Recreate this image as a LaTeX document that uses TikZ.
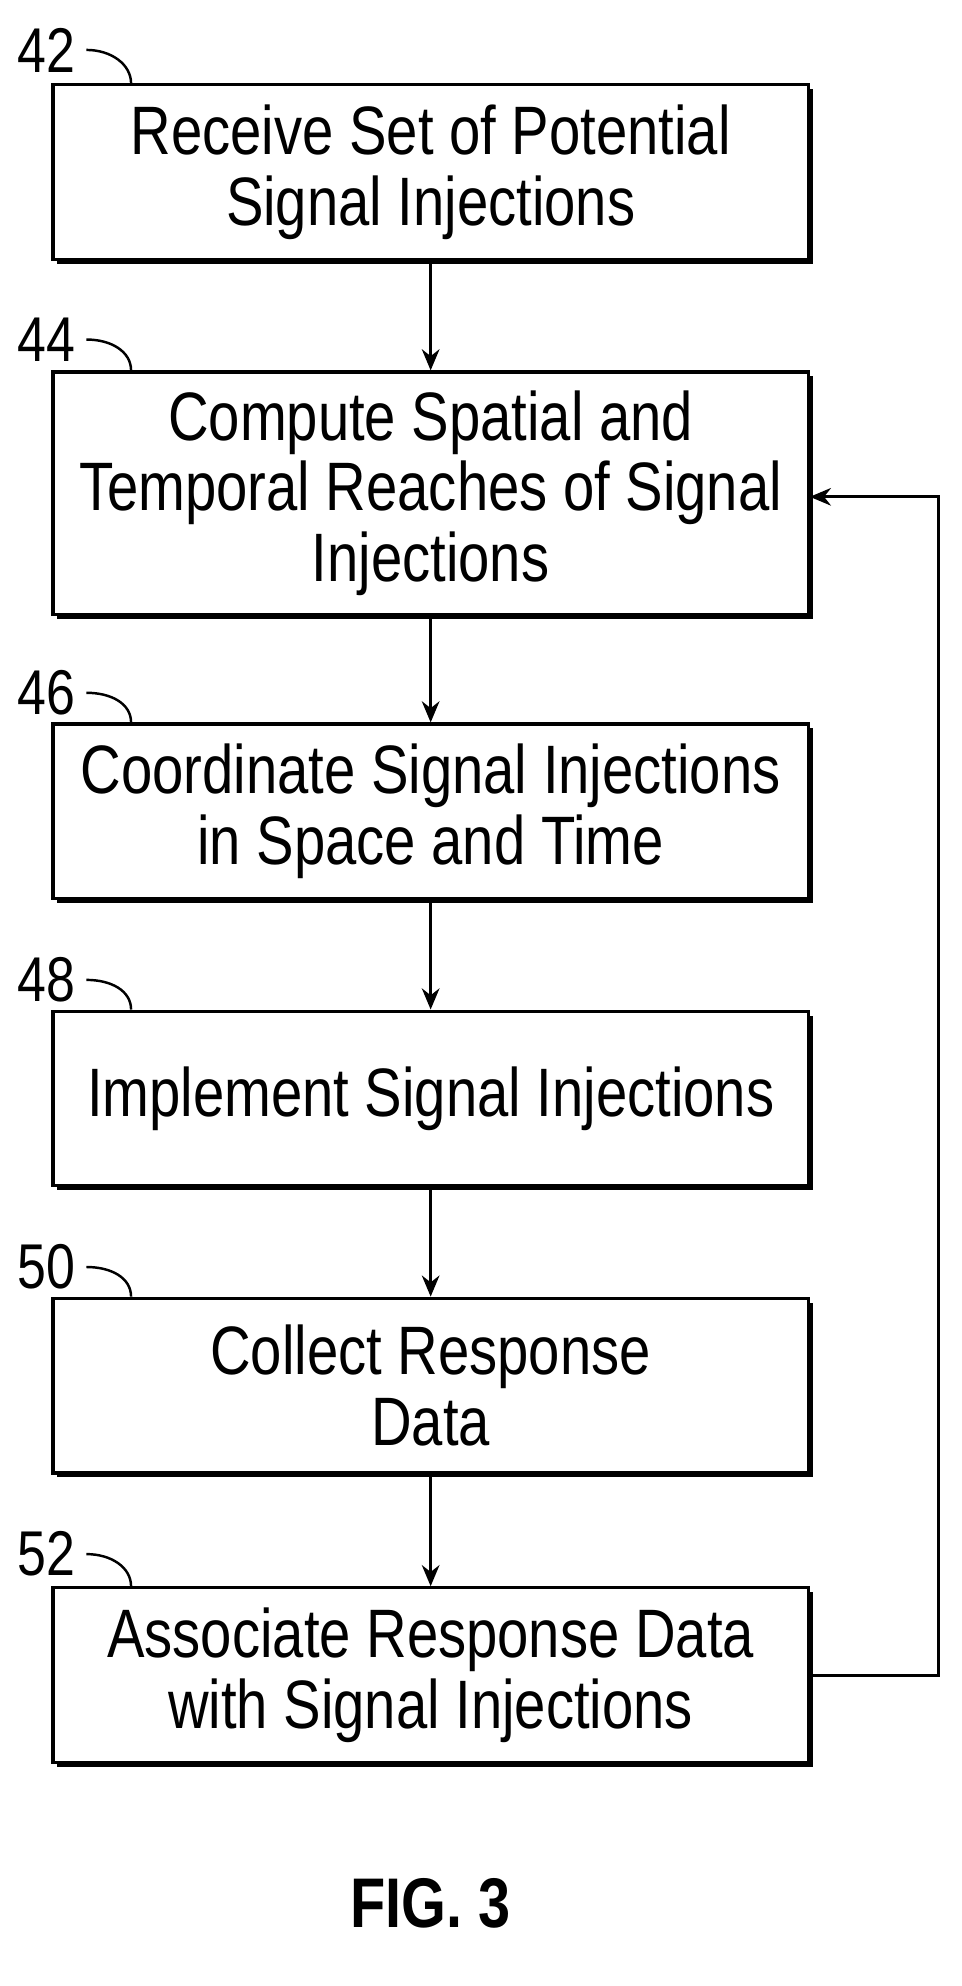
\documentclass[tikz,border=0pt]{standalone}
\usepackage{fontspec}
\setmainfont{Liberation Sans}[FakeStretch=0.82]
\usetikzlibrary{shadows,arrows.meta}
\newlength{\px}
\setlength{\px}{0.02496cm}
\tikzset{
  block/.style={draw,line width=1.8pt,fill=white,minimum width=605\px,align=center,
    font=\fontsize{39}{40}\selectfont,
    drop shadow={shadow xshift=2.5pt,shadow yshift=-2.5pt,opacity=1,fill=black}},
  num/.style={font=\fontsize{36}{36}\selectfont,anchor=west,inner sep=0pt},
  flow/.style={line width=1.8pt,-{Stealth[length=12pt,width=10pt]}}
}
\begin{document}
\begin{tikzpicture}[x=0.02496cm,y=-0.02496cm]
\useasboundingbox (0,0) rectangle (770,1591);
% boxes
\node[block,minimum height=140\px] (recv) at (345,138) {Receive Set of Potential\\Signal Injections};
\node[block,minimum height=194\px] (reach) at (345,395) {Compute Spatial and\\Temporal Reaches of Signal\\Injections};
\node[block,minimum height=140\px] (coord) at (345,650) {Coordinate Signal Injections\\in Space and Time};
\node[block,minimum height=140\px] (impl) at (345,880) {Implement Signal Injections};
\node[block,minimum height=140\px] (coll) at (345,1110) {Collect Response\\Data};
\node[block,minimum height=140\px] (assoc) at (345,1342) {Associate Response Data\\with Signal Injections};
% reference numerals
\foreach \n/\y/\b in {42/40/recv,44/272/reach,46/555/coord,48/785/impl,50/1015/coll,52/1245/assoc}{
  \node[num] (n\n) at (14,\y) {\n};
  \draw[line width=1.4pt] (n\n.east) ++(6pt,0) .. controls +(20,0) and +(0,-15) .. (\b.north west -| 105,0);
}
% connectors
\draw[flow] (recv) -- (reach);
\draw[flow] (reach) -- (coord);
\draw[flow] (coord) -- (impl);
\draw[flow] (impl) -- (coll);
\draw[flow] (coll) -- (assoc);
\coordinate (loop) at (752,398);
\draw[flow] (assoc.east) -- (assoc.east -| loop) -- (loop) -- (reach.east |- loop);
\node[font=\bfseries\fontsize{40}{40}\selectfont] (fig) at (345,1525) {FIG. 3};
\end{tikzpicture}
\end{document}
